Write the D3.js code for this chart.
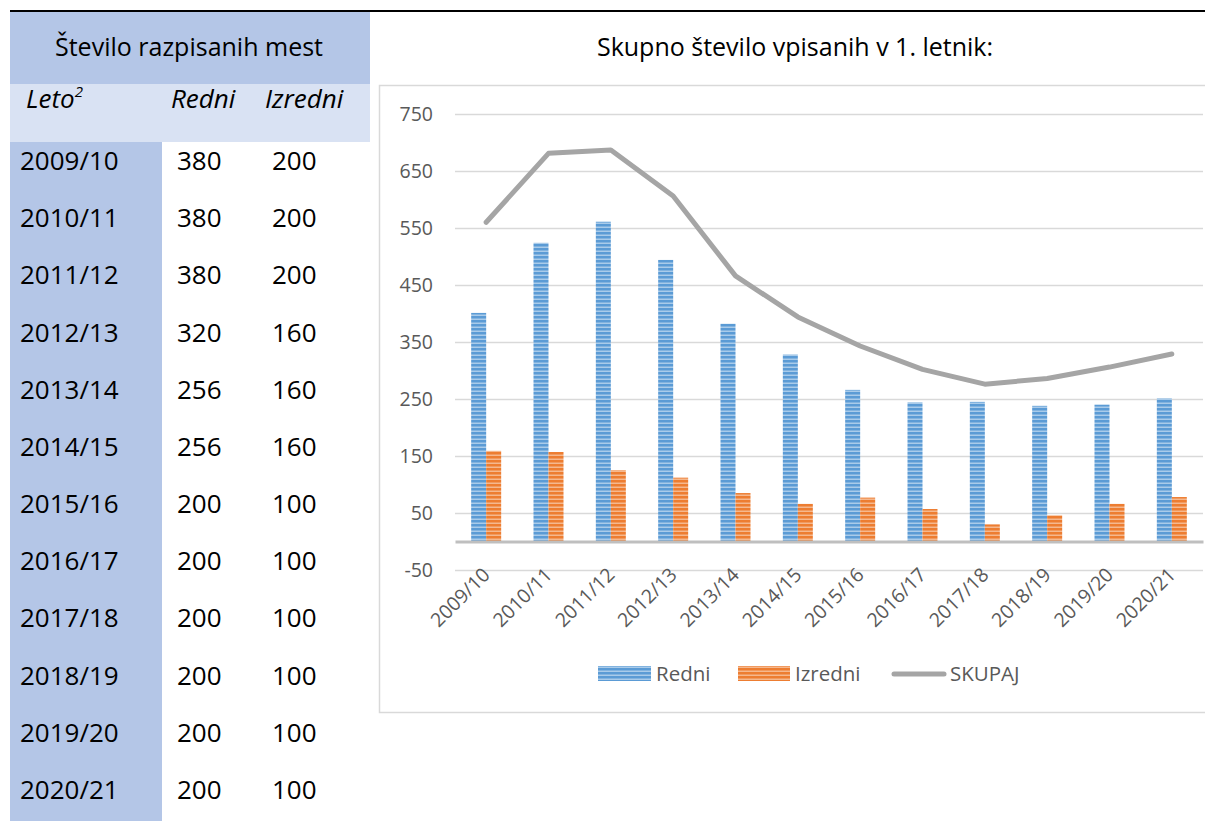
<!DOCTYPE html>
<html>
<head>
<meta charset="utf-8">
<script src="https://cdn.jsdelivr.net/npm/d3@7"></script>
<style>
html,body{margin:0;padding:0;background:#fff;}
svg{display:block;}
text{font-family:"Open Sans","Noto Sans",sans-serif;}
</style>
</head>
<body>
<svg id="c" width="1205" height="821"></svg>
<script>
// ---- data ----
const tableTitle = "Število razpisanih mest";
const tableCols = ["Leto", "Redni", "Izredni"];
const tableYears = ["2009/10","2010/11","2011/12","2012/13","2013/14","2014/15","2015/16","2016/17","2017/18","2018/19","2019/20","2020/21"];
const tableRedni = [380,380,380,320,256,256,200,200,200,200,200,200];
const tableIzredni = [200,200,200,160,160,160,100,100,100,100,100,100];

const chartTitle = "Skupno število vpisanih v 1. letnik:";
const categories = ["2009/10","2010/11","2011/12","2012/13","2013/14","2014/15","2015/16","2016/17","2017/18","2018/19","2019/20","2020/21"];
const redni   = [401, 524, 561, 494, 382, 328, 266, 244, 245, 238, 240, 251];
const izredni = [159, 157, 125, 112,  85,  66,  77,  57,  30,  46,  66,  78];
const skupaj  = [560, 681, 687, 606, 466, 394, 343, 302, 276, 286, 306, 329];
const yTicks = [-50, 50, 150, 250, 350, 450, 550, 650, 750];
const seriesNames = ["Redni", "Izredni", "SKUPAJ"];

const svg = d3.select("#c");
const defs = svg.append("defs");
function stripe(id, dark, light) {
  const p = defs.append("pattern").attr("id", id).attr("patternUnits", "userSpaceOnUse")
    .attr("width", 8).attr("height", 4);
  p.append("rect").attr("width", 8).attr("height", 4).attr("fill", light);
  p.append("rect").attr("y", 0).attr("width", 8).attr("height", 2.5).attr("fill", dark);
}
stripe("pBlue", "#5B9BD5", "#A9CBEA");
stripe("pOrange", "#ED7D31", "#F5B88E");

// ---- top rule ----
svg.append("line").attr("x1", 10).attr("x2", 1205).attr("y1", 11).attr("y2", 11)
  .attr("stroke", "#000").attr("stroke-width", 2.2);

// ---- table ----
svg.append("rect").attr("x", 10).attr("y", 12).attr("width", 360).attr("height", 72).attr("fill", "#B4C6E7");
svg.append("rect").attr("x", 10).attr("y", 84).attr("width", 360).attr("height", 58).attr("fill", "#D9E2F3");
svg.append("rect").attr("x", 10).attr("y", 142).attr("width", 152).attr("height", 679).attr("fill", "#B4C6E7");
svg.append("text").attr("x", 189).attr("y", 56).attr("text-anchor", "middle")
  .attr("font-size", 25).attr("fill", "#000").text(tableTitle);
const hdr = svg.append("g").attr("font-size", 26).attr("font-style", "italic").attr("fill", "#000");
const leto = hdr.append("text").attr("x", 26).attr("y", 108);
leto.append("tspan").text(tableCols[0]);
leto.append("tspan").attr("font-size", 15).attr("dy", -11).text("2");
hdr.append("text").attr("x", 171).attr("y", 108).text(tableCols[1]);
hdr.append("text").attr("x", 265).attr("y", 108).text(tableCols[2]);

const rowY = d3.scaleLinear().domain([0, 11]).range([170, 799]);
const body = svg.append("g").attr("font-size", 26).attr("fill", "#000");
tableYears.forEach((y, i) => {
  body.append("text").attr("x", 20).attr("y", rowY(i)).text(y);
  body.append("text").attr("x", 177).attr("y", rowY(i)).text(tableRedni[i]);
  body.append("text").attr("x", 272).attr("y", rowY(i)).text(tableIzredni[i]);
});

// ---- chart frame ----
svg.append("path").attr("d", "M1210,85.5 H379.5 V712.5 H1210")
  .attr("fill", "none").attr("stroke", "#D9D9D9").attr("stroke-width", 1.5);
svg.append("text").attr("x", 795).attr("y", 56).attr("text-anchor", "middle")
  .attr("font-size", 25).attr("fill", "#000").text(chartTitle);

const x = d3.scaleBand().domain(categories).range([455, 1203]).paddingInner(0).paddingOuter(0);
const y = d3.scaleLinear().domain([-50, 750]).range([570, 114]);
const bw = 15;

// gridlines
const yAxis = d3.axisLeft(y).tickValues(yTicks).tickFormat(d => String(d))
  .tickSize(-(1203 - 455)).tickPadding(22);
const gy = svg.append("g").attr("transform", "translate(455,0)").call(yAxis);
gy.select(".domain").remove();
gy.selectAll(".tick line").attr("stroke", "#D9D9D9").attr("stroke-width", 1.5);
gy.selectAll(".tick text").attr("font-size", 19.5).attr("fill", "#595959")
  .attr("font-family", "'Open Sans',sans-serif");

// bars
const gb = svg.append("g");
gb.selectAll("rect.r").data(redni).join("rect").attr("class", "r")
  .attr("x", (d, i) => x(categories[i]) + x.bandwidth() / 2 - bw)
  .attr("width", bw).attr("y", d => y(d)).attr("height", d => y(0) - y(d))
  .attr("fill", "url(#pBlue)");
gb.selectAll("rect.z").data(izredni).join("rect").attr("class", "z")
  .attr("x", (d, i) => x(categories[i]) + x.bandwidth() / 2)
  .attr("width", bw).attr("y", d => y(d)).attr("height", d => y(0) - y(d))
  .attr("fill", "url(#pOrange)");

// zero axis line
const xAxis = d3.axisBottom(x).tickSize(0).tickPadding(0);
const gx = svg.append("g").attr("transform", `translate(0,${y(0)})`).call(xAxis);
gx.select(".domain").attr("stroke", "#BFBFBF").attr("stroke-width", 3);
gx.selectAll(".tick text").remove();

// x labels (rotated)
const gl = svg.append("g");
categories.forEach(c => {
  const cx = x(c) + x.bandwidth() / 2 + 5;
  gl.append("text").attr("transform", `translate(${cx},${576}) rotate(-45)`)
    .attr("text-anchor", "end").attr("font-size", 19.5).attr("fill", "#595959").text(c);
});

// line
const line = d3.line().x((d, i) => x(categories[i]) + x.bandwidth() / 2).y(d => y(d));
svg.append("path").datum(skupaj).attr("d", line).attr("fill", "none")
  .attr("stroke", "#A5A5A5").attr("stroke-width", 5).attr("stroke-linejoin", "round")
  .attr("stroke-linecap", "round");

// legend
const lg = svg.append("g").attr("font-size", 20.5).attr("fill", "#595959");
lg.append("rect").attr("x", 598).attr("y", 666).attr("width", 53).attr("height", 15).attr("fill", "url(#pBlue)");
lg.append("text").attr("x", 656).attr("y", 681).text(seriesNames[0]);
lg.append("rect").attr("x", 738).attr("y", 666).attr("width", 52).attr("height", 15).attr("fill", "url(#pOrange)");
lg.append("text").attr("x", 795).attr("y", 681).text(seriesNames[1]);
lg.append("line").attr("x1", 894).attr("x2", 944).attr("y1", 674).attr("y2", 674)
  .attr("stroke", "#A5A5A5").attr("stroke-width", 5).attr("stroke-linecap", "round");
lg.append("text").attr("x", 950).attr("y", 681).text(seriesNames[2]);
</script>
</body>
</html>
